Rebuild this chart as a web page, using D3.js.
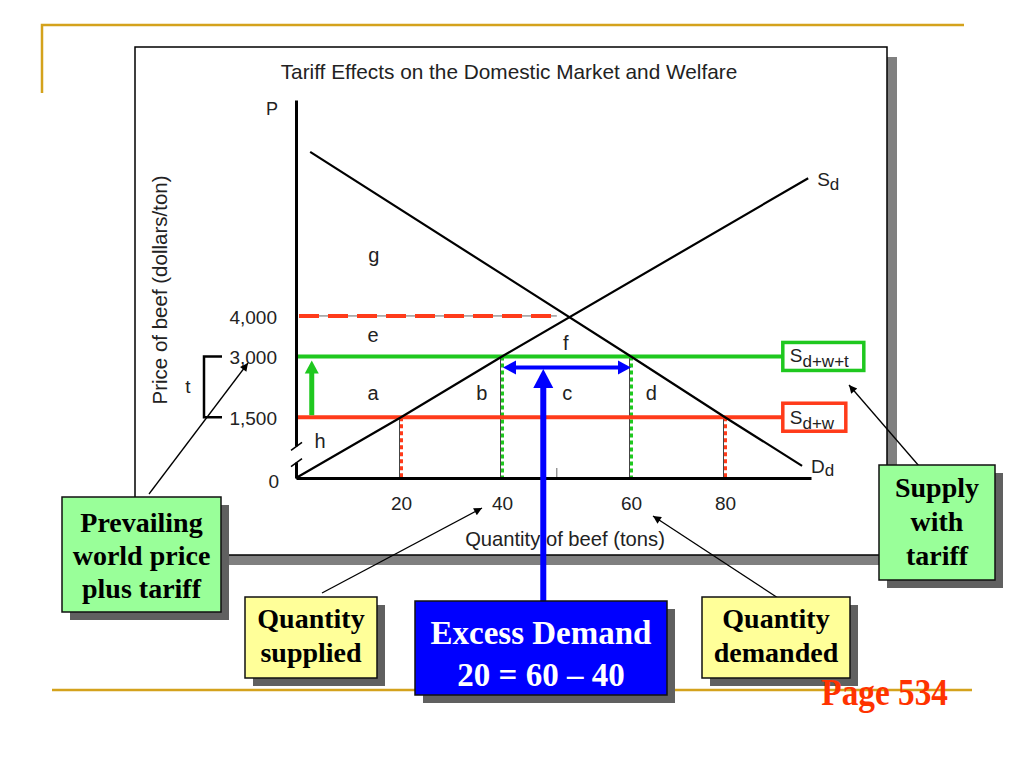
<!DOCTYPE html>
<html>
<head>
<meta charset="utf-8">
<script src="https://cdn.jsdelivr.net/npm/d3@7"></script>
<style>
  body { margin: 0; background: #fff; }
  svg { display: block; }
</style>
</head>
<body>
<div id="chart"></div>
<script>
// values
var xTicks = [20, 40, 60, 80];
var yTicks = [0, 1500, 3000, 4000];

// domestic supply (Sd) and demand (Dd): quantity in tons, price in dollars/ton
var supplyQ = [0, 20, 40, 97.7];
var supplyP = [0, 1500, 3000, 7400];
var demandQ = [2.7, 60, 80, 96.4];
var demandP = [8050, 3000, 1500, 300];

var worldPrice = 1500;      // Sd+w
var tariffPrice = 3000;     // Sd+w+t
var noTradePrice = 4000;
var noTradeQ = 48.5;
var suppliedQ = [20, 40];   // at world price, with tariff
var demandedQ = [80, 60];
var priceLineEndQ = 92.3;

var areaLetters = ["g", "e", "f", "a", "b", "c", "d", "h"];

var width = 1024, height = 768;
var red = "#ff3b1a", green = "#1fc81f", blue = "#0000ff";
var sans = "'Liberation Sans', Arial, sans-serif";
var serif = "'Liberation Serif', 'Times New Roman', serif";

var svg = d3.select("#chart").append("svg")
  .attr("width", width)
  .attr("height", height);

var defs = svg.append("defs");
defs.append("marker")
  .attr("id", "tip")
  .attr("viewBox", "0 0 10 10")
  .attr("refX", 10).attr("refY", 5)
  .attr("markerWidth", 12).attr("markerHeight", 8)
  .attr("markerUnits", "userSpaceOnUse")
  .attr("orient", "auto")
  .append("path").attr("d", "M0,0L10,5L0,10z").attr("fill", "#000");

// slide decoration (gold rules)
svg.append("path")
  .attr("d", "M42,93V25H964")
  .attr("fill", "none").attr("stroke", "#d4a21c").attr("stroke-width", 2.5);
svg.append("line")
  .attr("x1", 52).attr("x2", 972).attr("y1", 690).attr("y2", 690)
  .attr("stroke", "#d4a21c").attr("stroke-width", 2.5);

// chart frame with shadow
svg.append("rect").attr("x", 145).attr("y", 57).attr("width", 752).attr("height", 508).attr("fill", "#808080");
svg.append("rect").attr("x", 135).attr("y", 47).attr("width", 752).attr("height", 508)
  .attr("fill", "#fff").attr("stroke", "#000").attr("stroke-width", 1.5);

svg.append("text")
  .attr("x", 509).attr("y", 79)
  .attr("text-anchor", "middle")
  .style("font-family", sans).style("font-size", "20.8px").attr("fill", "#222")
  .text("Tariff Effects on the Domestic Market and Welfare");

// scales (the slide's quantity axis is not evenly spaced, so piecewise)
var x = d3.scaleLinear()
  .domain([0, 20, 40, 60, 80, 98.3])
  .range([296, 401, 502, 631, 725, 811]);
var y = d3.scaleLinear()
  .domain([0, 9330])
  .range([478, 100]);

var g = svg.append("g");

var line = d3.line()
  .x(function (d) { return x(d[0]); })
  .y(function (d) { return y(d[1]); });

// dotted quantity guides
function guide(q, p, color) {
  g.append("line")
    .attr("x1", x(q) - 1.5).attr("x2", x(q) - 1.5).attr("y1", y(p)).attr("y2", y(0))
    .attr("stroke", "#444").attr("stroke-width", 1);
  g.append("line")
    .attr("x1", x(q) + 0.5).attr("x2", x(q) + 0.5).attr("y1", y(p)).attr("y2", y(0))
    .attr("stroke", color).attr("stroke-width", 3).attr("stroke-dasharray", "4,3");
}
guide(suppliedQ[0], worldPrice, red);
guide(demandedQ[0], worldPrice, red);
guide(suppliedQ[1], tariffPrice, green);
guide(demandedQ[1], tariffPrice, green);

// no-trade price (dashed)
g.append("line")
  .attr("x1", x(0) + 3).attr("x2", x(noTradeQ)).attr("y1", y(noTradePrice)).attr("y2", y(noTradePrice))
  .attr("stroke", "#666").attr("stroke-width", 1);
g.append("line")
  .attr("x1", x(0) + 3).attr("x2", x(noTradeQ)).attr("y1", y(noTradePrice)).attr("y2", y(noTradePrice))
  .attr("stroke", red).attr("stroke-width", 4).attr("stroke-dasharray", "20,9");

// small mark on the quantity axis
g.append("line")
  .attr("x1", x(noTradeQ)).attr("x2", x(noTradeQ)).attr("y1", y(0) - 10).attr("y2", y(0))
  .attr("stroke", "#666").attr("stroke-width", 1);

// world price lines
g.append("line")
  .attr("x1", x(0)).attr("x2", x(priceLineEndQ)).attr("y1", y(tariffPrice)).attr("y2", y(tariffPrice))
  .attr("stroke", green).attr("stroke-width", 4);
g.append("line")
  .attr("x1", x(0)).attr("x2", x(priceLineEndQ)).attr("y1", y(worldPrice)).attr("y2", y(worldPrice))
  .attr("stroke", red).attr("stroke-width", 4);

// supply & demand
g.append("path")
  .datum(d3.zip(supplyQ, supplyP))
  .attr("d", line).attr("fill", "none").attr("stroke", "#000").attr("stroke-width", 2.2);
g.append("path")
  .datum(d3.zip(demandQ, demandP))
  .attr("d", line).attr("fill", "none").attr("stroke", "#000").attr("stroke-width", 2.2);

// axes
var xAxis = g.append("g")
  .attr("transform", "translate(0," + y(0) + ")")
  .call(d3.axisBottom(x).tickValues(xTicks).tickSize(0).tickSizeOuter(0).tickPadding(19));
var yAxis = g.append("g")
  .attr("transform", "translate(" + x(0) + ",0)")
  .call(d3.axisLeft(y).tickValues(yTicks).tickSize(0).tickSizeOuter(0).tickPadding(19)
    .tickFormat(d3.format(",")));
[xAxis, yAxis].forEach(function (a) {
  a.select(".domain").attr("stroke", "#000").attr("stroke-width", 3);
  a.selectAll("text")
    .style("font-family", sans).style("font-size", "19px").attr("fill", "#222");
});
yAxis.selectAll(".tick text").attr("dy", "0.38em");
yAxis.selectAll(".tick").filter(function (d) { return d === 0; })
  .select("text").attr("dy", "0.5em").attr("x", -17);

// axis break
g.append("rect").attr("x", x(0) - 3).attr("y", y(780)).attr("width", 6).attr("height", y(380) - y(780)).attr("fill", "#fff");
[780, 380].forEach(function (p) {
  g.append("line")
    .attr("x1", x(0) - 5).attr("y1", y(p) + 4).attr("x2", x(0) + 6).attr("y2", y(p) - 4)
    .attr("stroke", "#000").attr("stroke-width", 1.5);
});

// axis titles
svg.append("text").attr("x", 272).attr("y", 115).attr("text-anchor", "middle")
  .style("font-family", sans).style("font-size", "18px").attr("fill", "#222").text("P");
svg.append("text")
  .attr("transform", "translate(167,290) rotate(-90)")
  .attr("text-anchor", "middle")
  .style("font-family", sans).style("font-size", "20.5px").attr("fill", "#222")
  .text("Price of beef (dollars/ton)");
svg.append("text").attr("x", 565).attr("y", 546).attr("text-anchor", "middle")
  .style("font-family", sans).style("font-size", "20.2px").attr("fill", "#222")
  .text("Quantity of beef (tons)");

// welfare area letters, anchored in data units
var areaQ = [14.8, 14.7, 49.9, 14.7, 36, 50.1, 64.3, 4.6];
var areaP = [5330, 3360, 3160, 1926, 1926, 1926, 1926, 741];
g.selectAll(".area-label")
  .data(areaLetters)
  .enter().append("text")
  .attr("class", "area-label")
  .attr("x", function (d, i) { return x(areaQ[i]); })
  .attr("y", function (d, i) { return y(areaP[i]); })
  .attr("text-anchor", "middle")
  .style("font-family", sans).style("font-size", "20px").attr("fill", "#222")
  .text(function (d) { return d; });

// curve labels with subscripts
function subLabel(px, py, main, sub, drop) {
  var t = svg.append("text").attr("x", px).attr("y", py)
    .style("font-family", sans).style("font-size", "19px").attr("fill", "#222");
  t.append("tspan").text(main);
  t.append("tspan").attr("dy", drop).style("font-size", "17px").text(sub);
}
subLabel(x(97.7) + 9, y(7400) + 8, "S", "d", 4);
subLabel(x(96.4) + 9, y(300) + 7, "D", "d", 3);

// price line end boxes
var boxX = x(priceLineEndQ);
g.append("rect").attr("x", boxX).attr("y", y(tariffPrice) - 14).attr("width", 81).attr("height", 28)
  .attr("fill", "#fff").attr("stroke", green).attr("stroke-width", 3.5);
subLabel(boxX + 7, y(tariffPrice) + 6, "S", "d+w+t", 5);
g.append("rect").attr("x", boxX).attr("y", y(worldPrice) - 14).attr("width", 63).attr("height", 28)
  .attr("fill", "#fff").attr("stroke", red).attr("stroke-width", 3.5);
subLabel(boxX + 7, y(worldPrice) + 7, "S", "d+w", 5);

// tariff bracket
svg.append("path")
  .attr("d", "M222," + y(tariffPrice) + "H204V" + y(worldPrice) + "H222")
  .attr("fill", "none").attr("stroke", "#000").attr("stroke-width", 2.5);
svg.append("text").attr("x", 188).attr("y", 393).attr("text-anchor", "middle")
  .style("font-family", sans).style("font-size", "19px").attr("fill", "#222").text("t");

// green arrow: price rises by the tariff
var gx = x(3);
g.append("line").attr("x1", gx).attr("x2", gx).attr("y1", y(worldPrice) - 2).attr("y2", y(tariffPrice) + 14)
  .attr("stroke", green).attr("stroke-width", 5);
g.append("path")
  .attr("d", "M" + gx + "," + (y(tariffPrice) + 4) + "l-7,13h14z").attr("fill", green);

// blue double arrow: excess demand
var by = y(tariffPrice) + 11;
var bx1 = x(suppliedQ[1]) + 1, bx2 = x(demandedQ[1]);
g.append("line").attr("x1", bx1 + 10).attr("x2", bx2 - 10).attr("y1", by).attr("y2", by)
  .attr("stroke", blue).attr("stroke-width", 4);
g.append("path").attr("d", "M" + bx1 + "," + by + "l13,-7v14z").attr("fill", blue);
g.append("path").attr("d", "M" + bx2 + "," + by + "l-13,-7v14z").attr("fill", blue);

// call-out boxes
function callout(bx, bty, w, h, fill, color, size, lines, baselines) {
  svg.append("rect").attr("x", bx + 8).attr("y", bty + 8).attr("width", w).attr("height", h).attr("fill", "#606060");
  svg.append("rect").attr("x", bx).attr("y", bty).attr("width", w).attr("height", h)
    .attr("fill", fill).attr("stroke", "#111").attr("stroke-width", 1.5);
  lines.forEach(function (l, i) {
    svg.append("text").attr("x", bx + w / 2).attr("y", baselines[i])
      .attr("text-anchor", "middle")
      .style("font-family", serif).style("font-weight", "bold").style("font-size", size + "px")
      .attr("fill", color).text(l);
  });
}

function leader(x1, y1, x2, y2) {
  svg.append("line").attr("x1", x1).attr("y1", y1).attr("x2", x2).attr("y2", y2)
    .attr("stroke", "#000").attr("stroke-width", 1.3).attr("marker-end", "url(#tip)");
}

leader(149, 494, 248, 363);
leader(322, 593, 482, 508);
leader(778, 598, 653, 516);
leader(919, 466, 849, 385);

// blue arrow from the excess demand box
var ax = x(46.4);
svg.append("rect").attr("x", ax - 3).attr("y", 386).attr("width", 6).attr("height", 216).attr("fill", blue);
svg.append("path").attr("d", "M" + ax + ",369l-10,19h20z").attr("fill", blue);

callout(62, 497, 159, 115, "#99ff99", "#000", 28, ["Prevailing", "world price", "plus tariff"], [532, 565, 598]);
callout(245, 597, 132, 81, "#ffff99", "#000", 28, ["Quantity", "supplied"], [628, 662]);
callout(415, 601, 252, 94, blue, "#fff", 33, ["Excess Demand", "20 = 60 \u2013 40"], [644, 686]);
callout(702, 597, 148, 81, "#ffff99", "#000", 28, ["Quantity", "demanded"], [628, 662]);
callout(879, 465, 116, 115, "#99ff99", "#000", 28, ["Supply", "with", "tariff"], [497, 531, 565]);

svg.append("text")
  .attr("transform", "translate(948,705) scale(0.9,1)")
  .attr("text-anchor", "end")
  .style("font-family", serif).style("font-weight", "bold").style("font-size", "37px")
  .attr("fill", "#ff3300").text("Page 534");
</script>
</body>
</html>
